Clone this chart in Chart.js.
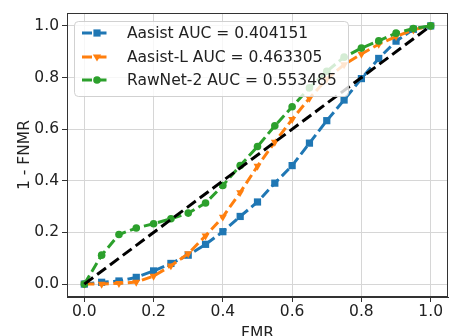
<!DOCTYPE html>
<html>
<head>
<meta charset="utf-8">
<script src="https://cdn.jsdelivr.net/npm/chart.js@4"></script>
<style>
  html, body { margin: 0; padding: 0; background: #fff; overflow: hidden; }
  #wrap { width: 449px; height: 346px; position: relative; }
</style>
</head>
<body>
<div id="wrap"><canvas id="rocChart"></canvas></div>
<script>
// FMR values (x axis), one point every 0.05
const fmr = [0, 0.05, 0.1, 0.15, 0.2, 0.25, 0.3, 0.35, 0.4, 0.45, 0.5,
  0.55, 0.6, 0.65, 0.7, 0.75, 0.8, 0.85, 0.9, 0.95, 1.0];
// 1 - FNMR for each system
const aasist = [0, 0.007, 0.012, 0.026, 0.051, 0.08, 0.112, 0.154, 0.203, 0.262, 0.318,
  0.391, 0.459, 0.546, 0.633, 0.713, 0.796, 0.874, 0.941, 0.987, 1.0];
const aasistL = [0, 0.0, 0.003, 0.008, 0.031, 0.071, 0.118, 0.187, 0.26, 0.355, 0.457,
  0.55, 0.638, 0.72, 0.794, 0.85, 0.891, 0.929, 0.959, 0.985, 1.0];
const rawnet2 = [0, 0.112, 0.192, 0.217, 0.234, 0.253, 0.275, 0.314, 0.382, 0.459, 0.533,
  0.613, 0.687, 0.76, 0.824, 0.879, 0.914, 0.942, 0.972, 0.99, 1.0];
// chance line
const chanceX = [0, 1];
const chanceY = [0, 1];
const xTicks = [0, 0.2, 0.4, 0.6, 0.8, 1.0];
const yTicks = [0, 0.2, 0.4, 0.6, 0.8, 1.0];
const labels = ["Aasist AUC = 0.404151", "Aasist-L AUC = 0.463305", "RawNet-2 AUC = 0.553485"];

const toPoints = (xs, ys) => xs.map((x, i) => ({ x: x, y: ys[i] }));
const DASH = [10, 4.5];

Chart.defaults.font.family = "DejaVu Sans";
Chart.defaults.font.size = 15.5;
Chart.defaults.color = "#222";

// box around the plot (matplotlib spines)
const framePlugin = {
  id: "frame",
  afterDraw(chart) {
    const a = chart.chartArea, c = chart.ctx;
    c.save();
    c.strokeStyle = "#333";
    c.lineWidth = 1;
    c.strokeRect(a.left + 0.5, a.top + 0.5, a.right - a.left - 1, a.bottom - a.top - 1);
    c.restore();
  }
};

function drawMarker(c, style, x, y, color) {
  c.fillStyle = color;
  c.beginPath();
  if (style === "rect") {
    c.rect(x - 3.6, y - 3.6, 7.2, 7.2);
  } else if (style === "tri") {
    c.moveTo(x - 4.2, y - 2.6);
    c.lineTo(x + 4.2, y - 2.6);
    c.lineTo(x, y + 4.4);
    c.closePath();
  } else {
    c.arc(x, y, 3.8, 0, Math.PI * 2);
  }
  c.fill();
}

// legend drawn inside the plot, upper left
const legendPlugin = {
  id: "boxLegend",
  afterDraw(chart) {
    const c = chart.ctx;
    const items = [
      { color: "#1f77b4", marker: "rect" },
      { color: "#ff7f0e", marker: "tri" },
      { color: "#2ca02c", marker: "circle" }
    ];
    c.save();
    c.beginPath();
    c.roundRect(74.5, 21.5, 274, 75, 4);
    c.fillStyle = "rgba(255,255,255,0.8)";
    c.fill();
    c.strokeStyle = "rgba(204,204,204,0.9)";
    c.lineWidth = 1;
    c.stroke();
    const rows = [33, 57, 80];
    items.forEach((it, i) => {
      const y = rows[i];
      c.strokeStyle = it.color;
      c.lineWidth = 3;
      c.setLineDash(DASH);
      c.beginPath();
      c.moveTo(82, y);
      c.lineTo(111, y);
      c.stroke();
      c.setLineDash([]);
      drawMarker(c, it.marker, 97, y, it.color);
      c.fillStyle = "#222";
      c.font = "15.5px 'DejaVu Sans'";
      c.textBaseline = "middle";
      c.textAlign = "left";
      c.fillText(labels[i], 127, y + 1);
    });
    c.restore();
  }
};

const ctx = document.getElementById("rocChart").getContext("2d");
const rocChart = new Chart(ctx, {
  type: "scatter",
  data: {
    datasets: [
      {
        label: "chance",
        data: toPoints(chanceX, chanceY),
        showLine: true,
        borderColor: "#000",
        borderWidth: 3,
        borderDash: [11, 5],
        pointRadius: 0,
        order: 0
      },
      {
        label: labels[0],
        data: toPoints(fmr, aasist),
        showLine: true,
        borderColor: "#1f77b4",
        backgroundColor: "#1f77b4",
        borderWidth: 3,
        borderDash: DASH,
        pointStyle: "rect",
        pointRadius: 5.1,
        pointBorderWidth: 0,
        order: 3
      },
      {
        label: labels[1],
        data: toPoints(fmr, aasistL),
        showLine: true,
        borderColor: "#ff7f0e",
        backgroundColor: "#ff7f0e",
        borderWidth: 3,
        borderDash: DASH,
        pointStyle: "triangle",
        pointRotation: 180,
        pointRadius: 4.6,
        pointBorderWidth: 0,
        order: 2
      },
      {
        label: labels[2],
        data: toPoints(fmr, rawnet2),
        showLine: true,
        borderColor: "#2ca02c",
        backgroundColor: "#2ca02c",
        borderWidth: 3,
        borderDash: DASH,
        pointStyle: "circle",
        pointRadius: 3.8,
        pointBorderWidth: 0,
        order: 1
      }
    ]
  },
  options: {
    responsive: true,
    maintainAspectRatio: false,
    animation: false,
    layout: { autoPadding: false, padding: { top: 13, right: 1, left: 0, bottom: 0 } },
    scales: {
      x: {
        type: "linear",
        min: -0.05,
        max: 1.05,
        afterBuildTicks: (s) => { s.ticks = xTicks.map(v => ({ value: v })); },
        afterFit: (s) => { s.height = 49; s.paddingLeft = 0; s.paddingRight = 0; },
        ticks: {
          color: "#222",
          padding: 1,
          autoSkip: false,
          maxRotation: 0,
          callback: (v) => Number(v).toFixed(1)
        },
        grid: { color: "#d6d6d6", lineWidth: 1, tickColor: "#333", tickLength: 5 },
        border: { display: true, color: "#333" },
        title: { display: true, text: "FMR", color: "#222", padding: { top: 0, bottom: 3 } }
      },
      y: {
        type: "linear",
        min: -0.05,
        max: 1.05,
        afterBuildTicks: (s) => { s.ticks = yTicks.map(v => ({ value: v })); },
        afterFit: (s) => { s.width = 67; },
        ticks: {
          color: "#222",
          padding: 3,
          autoSkip: false,
          callback: (v) => Number(v).toFixed(1)
        },
        grid: { color: "#d6d6d6", lineWidth: 1, tickColor: "#333", tickLength: 5 },
        border: { display: true, color: "#333" },
        title: { display: true, text: "1 - FNMR", color: "#222", padding: { top: 16, bottom: 0 } }
      }
    },
    plugins: {
      legend: { display: false },
      tooltip: { enabled: false }
    }
  },
  plugins: [framePlugin, legendPlugin]
});
</script>
</body>
</html>
